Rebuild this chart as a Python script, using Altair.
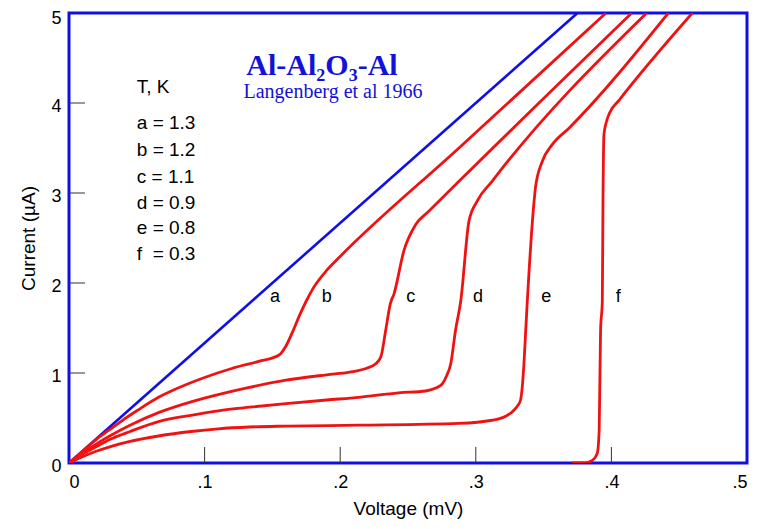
import altair as alt
import pandas as pd

# ---- data (Voltage in mV, Current in µA) ----
ab_v = [0, 0.01, 0.02, 0.03, 0.04, 0.05, 0.066, 0.08, 0.10, 0.12, 0.14, 0.155,
        0.160, 0.165, 0.170, 0.175, 0.180, 0.190, 0.199, 0.2876, 0.396]
ab_i = [0, 0.13, 0.26, 0.37, 0.48, 0.58, 0.73, 0.83, 0.95, 1.05, 1.13, 1.20,
        1.30, 1.46, 1.64, 1.80, 1.94, 2.14, 2.28, 3.50, 5.0]

c_v = [0, 0.01, 0.02, 0.03, 0.045, 0.066, 0.09, 0.11, 0.133, 0.16, 0.19, 0.207,
       0.219, 0.226, 0.230, 0.2335, 0.237, 0.2397, 0.247, 0.2557, 0.2655, 0.2876, 0.415]
c_i = [0, 0.11, 0.21, 0.30, 0.42, 0.56, 0.68, 0.76, 0.84, 0.92, 0.98, 1.01,
       1.05, 1.10, 1.18, 1.47, 1.77, 1.88, 2.36, 2.65, 2.80, 3.13, 5.0]

d_v = [0, 0.01, 0.02, 0.03, 0.045, 0.066, 0.09, 0.11, 0.133, 0.16, 0.19, 0.214,
       0.243, 0.263, 0.270, 0.2753, 0.2785, 0.2815, 0.285, 0.2889, 0.295, 0.301, 0.312, 0.426]
d_i = [0, 0.10, 0.18, 0.26, 0.35, 0.46, 0.53, 0.58, 0.62, 0.66, 0.70, 0.73,
       0.78, 0.80, 0.83, 0.88, 0.97, 1.10, 1.47, 1.80, 2.69, 2.91, 3.13, 5.0]

e_v = [0, 0.01, 0.02, 0.03, 0.045, 0.066, 0.09, 0.11, 0.133, 0.16, 0.214, 0.2876,
       0.312, 0.322, 0.327, 0.331, 0.333, 0.3355, 0.3368, 0.338, 0.343, 0.344,
       0.349, 0.3565, 0.3687, 0.442]
e_i = [0, 0.07, 0.13, 0.18, 0.24, 0.30, 0.35, 0.38, 0.40, 0.41, 0.42, 0.44,
       0.475, 0.52, 0.57, 0.64, 0.70, 1.10, 1.47, 1.80, 2.91, 3.06,
       3.35, 3.54, 3.72, 5.0]

f_v = [0.371, 0.380, 0.386, 0.3896, 0.391, 0.392, 0.3933, 0.3938, 0.3945,
       0.3965, 0.399, 0.4056, 0.4597]
f_i = [0, 0.0, 0.03, 0.11, 0.37, 1.47, 1.80, 2.91, 3.65, 3.80, 3.90, 4.03, 5.0]

normal_v = [0, 0.375]
normal_i = [0, 5.0]

curve_labels = ["a", "b", "c", "d", "e", "f"]
curve_label_v = [0.152, 0.190, 0.252, 0.3016, 0.352, 0.405]
curve_label_i = [1.84, 1.84, 1.84, 1.84, 1.84, 1.84]

legend_lines = ["T, K", "a = 1.3", "b = 1.2", "c = 1.1", "d = 0.9", "e = 0.8", "f\u00a0 = 0.3"]
legend_v = [0.050] * 7
legend_i = [4.18, 3.78, 3.48, 3.18, 2.89, 2.61, 2.32]

title_text = ["Al-Al\u2082O\u2083-Al"]
title_v = [0.1866]
title_i = [4.31]
subtitle_text = ["Langenberg et al 1966"]
subtitle_v = [0.1947]
subtitle_i = [4.06]

x_ticks = [0, 0.1, 0.2, 0.3, 0.4, 0.5]
y_ticks = [0, 1, 2, 3, 4, 5]
inner_x_ticks = [0.1, 0.2, 0.3, 0.4]
inner_y_ticks = [1, 2, 3, 4]

# ---- tables ----
rows = []
for name, vs, cs in [("ab", ab_v, ab_i), ("c", c_v, c_i), ("d", d_v, d_i),
                     ("e", e_v, e_i), ("f", f_v, f_i)]:
    for k, (v, c) in enumerate(zip(vs, cs)):
        rows.append({"curve": name, "V": v, "I": c, "order": k})
df_curves = pd.DataFrame(rows)
df_normal = pd.DataFrame({"V": normal_v, "I": normal_i})
df_lab = pd.DataFrame({"t": curve_labels, "V": curve_label_v, "I": curve_label_i})
df_leg = pd.DataFrame({"t": legend_lines, "V": legend_v, "I": legend_i})
df_xt = pd.DataFrame({"V": inner_x_ticks, "I0": [0] * 4, "I1": [0.178] * 4})
df_yt = pd.DataFrame({"I": inner_y_ticks, "V0": [0] * 4, "V1": [0.0118] * 4})
df_title = pd.DataFrame({"t": title_text, "V": title_v, "I": title_i})
df_sub = pd.DataFrame({"t": subtitle_text, "V": subtitle_v, "I": subtitle_i})

xs = alt.Scale(domain=[0, 0.5], nice=False, zero=False)
ys = alt.Scale(domain=[0, 5], nice=False, zero=False)

x_enc = alt.X("V:Q", scale=xs, axis=alt.Axis(
    values=x_ticks, title="Voltage (mV)",
    labelExpr="datum.value == 0 ? '0' : '.' + format(datum.value * 10, 'd')",
    labelPadding=10, titlePadding=8))
y_enc = alt.Y("I:Q", scale=ys, axis=alt.Axis(
    values=y_ticks, title="Current (\u00b5A)", format="d",
    labelPadding=8,
    labelOffset={"condition": {"test": "datum.value == 5", "value": 5}, "value": 3},
    titlePadding=12))

normal = alt.Chart(df_normal).mark_line(color="#1010e6", strokeWidth=2.6).encode(
    x=x_enc, y=y_enc)

curves = alt.Chart(df_curves).mark_line(
    color="#f01212", strokeWidth=2.8, interpolate="monotone", clip=True).encode(
    x="V:Q", y="I:Q", detail="curve:N", order="order:Q")

xt = alt.Chart(df_xt).mark_rule(color="#333333", strokeWidth=1).encode(
    x="V:Q", y="I0:Q", y2="I1:Q")
yt = alt.Chart(df_yt).mark_rule(color="#333333", strokeWidth=1).encode(
    y="I:Q", x="V0:Q", x2="V1:Q")

labs = alt.Chart(df_lab).mark_text(
    font="Liberation Sans", fontSize=18, color="black", align="center",
    baseline="middle").encode(x="V:Q", y="I:Q", text="t:N")

leg = alt.Chart(df_leg).mark_text(
    font="Liberation Sans", fontSize=19, color="black", align="left",
    baseline="middle").encode(x="V:Q", y="I:Q", text="t:N")

title = alt.Chart(df_title).mark_text(
    font="Liberation Serif", fontSize=30, fontWeight="bold", color="#1212d8",
    align="center", baseline="alphabetic").encode(x="V:Q", y="I:Q", text="t:N")
sub = alt.Chart(df_sub).mark_text(
    font="Liberation Serif", fontSize=20, color="#1212d8",
    align="center", baseline="alphabetic").encode(x="V:Q", y="I:Q", text="t:N")

chart = alt.layer(normal, curves, xt, yt, labs, leg, title, sub).properties(
    width=678, height=450,
    autosize=alt.AutoSizeParams(type="none"),
    padding={"left": 61, "top": 5, "right": 17, "bottom": 58},
).configure_view(
    stroke="#1010e6", strokeWidth=3
).configure_axis(
    domain=False, ticks=False, grid=False,
    labelFont="Liberation Sans", labelFontSize=18, labelColor="black",
    titleFont="Liberation Sans", titleFontSize=19, titleFontWeight="normal",
    titleColor="black"
)

chart.save("out.html", embed_options={"renderer": "svg", "actions": False})
